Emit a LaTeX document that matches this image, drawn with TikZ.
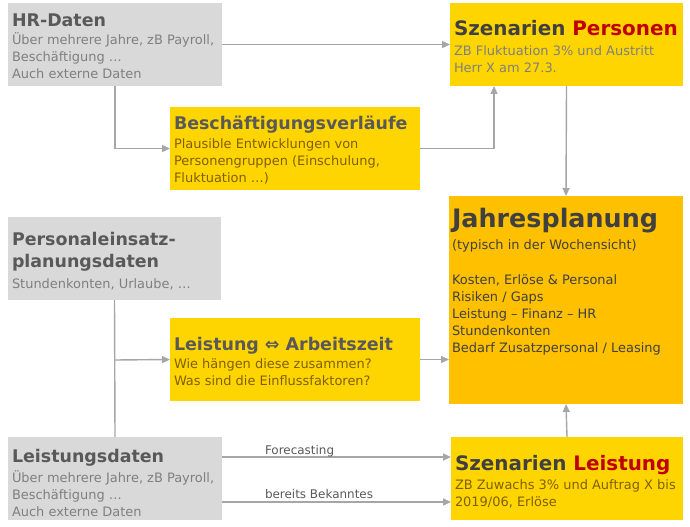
\documentclass[tikz,border=0pt]{standalone}
\usepackage{fontspec}
\setmainfont{DejaVu Sans}
\usetikzlibrary{arrows.meta}
\definecolor{boxgrey}{HTML}{D9D9D9}
\definecolor{boxyel}{HTML}{FFD500}
\definecolor{boxorg}{HTML}{FFC000}
\definecolor{tgrey}{HTML}{595959}
\definecolor{bgrey}{HTML}{7F7F7F}
\definecolor{tdark}{HTML}{404040}
\definecolor{bbrown}{HTML}{7F6000}
\definecolor{tred}{HTML}{C00000}
\definecolor{linegrey}{HTML}{A6A6A6}
\begin{document}
\begin{tikzpicture}[x=1bp,y=-1bp,
  box/.style={inner sep=0,outer sep=0,anchor=north west},
  greybox/.style={box,fill=boxgrey},
  yelbox/.style={box,fill=boxyel},
  orgbox/.style={box,fill=boxorg},
  ln/.style={anchor=base west,inner sep=0,outer sep=0},
  title/.style={ln,font=\fontsize{17.5}{20}\selectfont\bfseries},
  bigtitle/.style={ln,font=\fontsize{20}{23}\selectfont\bfseries,text=tdark},
  body/.style={ln,font=\fontsize{13}{16}\selectfont},
  lbl/.style={ln,font=\fontsize{12}{14}\selectfont,text=tgrey},
  conn/.style={draw=linegrey,line width=1.4bp},
  arr/.style={conn,-{Triangle[length=8bp,width=7bp]}}
]
\useasboundingbox[fill=white] (0,0) rectangle (690,527);

% boxes
\node[greybox,minimum width=214bp,minimum height=83bp] (hr) at (8,3) {};
\node[yelbox,minimum width=233bp,minimum height=83bp] (szp) at (450,3) {};
\node[yelbox,minimum width=250bp,minimum height=83bp] (besch) at (170,107) {};
\node[greybox,minimum width=213bp,minimum height=83bp] (pe) at (8,217) {};
\node[orgbox,minimum width=234bp,minimum height=208bp] (jp) at (449,196) {};
\node[yelbox,minimum width=250bp,minimum height=83bp] (law) at (170,318) {};
\node[greybox,minimum width=214bp,minimum height=83bp] (ld) at (8,437) {};
\node[yelbox,minimum width=232bp,minimum height=83bp] (szl) at (451,437) {};

% HR-Daten
\node[title,text=tgrey] (hrT) at (12,26.5) {HR-Daten};
\node[body,text=bgrey] (hr1) at (12,45) {Über mehrere Jahre, zB Payroll,};
\node[body,text=bgrey] (hr2) at (12,62) {Beschäftigung \dots};
\node[body,text=bgrey] (hr3) at (12,79) {Auch externe Daten};

% Szenarien Personen
\node[bigtitle] (szpT) at (454,36) {Szenarien \textcolor{tred}{Personen}};
\node[body,text=bgrey] (szp1) at (454,55.5) {ZB Fluktuation 3\% und Austritt};
\node[body,text=bgrey] (szp2) at (454,72.5) {Herr X am 27.3.};

% Beschaeftigungsverlaeufe
\node[title,text=tgrey] (beT) at (174,130) {Beschäftigungsverläufe};
\node[body,text=bbrown] (be1) at (174,149) {Plausible Entwicklungen von};
\node[body,text=bbrown] (be2) at (174,166) {Personengruppen (Einschulung,};
\node[body,text=bbrown] (be3) at (174,183) {Fluktuation \dots)};

% Personaleinsatzplanungsdaten
\node[title,text=tgrey] (peT1) at (12,246) {Personaleinsatz-};
\node[title,text=tgrey] (peT2) at (12,268) {planungsdaten};
\node[body,text=bgrey] (pe1) at (12,288) {Stundenkonten, Urlaube, \dots};

% Jahresplanung
\node[ln,font=\fontsize{25.5}{30}\selectfont\bfseries,text=tdark] (jpT) at (452,228) {Jahresplanung};
\node[body,text=tdark] (jp0) at (452,250) {(typisch in der Wochensicht)};
\node[body,text=tdark] (jp1) at (452,284) {Kosten, Erlöse \& Personal};
\node[body,text=tdark] (jp2) at (452,301) {Risiken / Gaps};
\node[body,text=tdark] (jp3) at (452,318) {Leistung -- Finanz -- HR};
\node[body,text=tdark] (jp4) at (452,335) {Stundenkonten};
\node[body,text=tdark] (jp5) at (452,352.5) {Bedarf Zusatzpersonal / Leasing};

% Leistung <-> Arbeitszeit
\node[title,text=tgrey] (lawT) at (174,350) {Leistung ⇔ Arbeitszeit};
\node[body,text=bbrown] (law1) at (174,368) {Wie hängen diese zusammen?};
\node[body,text=bbrown] (law2) at (174,385) {Was sind die Einflussfaktoren?};

% Leistungsdaten
\node[title,text=tgrey] (ldT) at (12,462) {Leistungsdaten};
\node[body,text=bgrey] (ld1) at (12,482) {Über mehrere Jahre, zB Payroll,};
\node[body,text=bgrey] (ld2) at (12,499) {Beschäftigung \dots};
\node[body,text=bgrey] (ld3) at (12,516) {Auch externe Daten};

% Szenarien Leistung
\node[bigtitle] (szlT) at (455,470) {Szenarien \textcolor{tred}{Leistung}};
\node[body,text=bbrown] (szl1) at (455,489) {ZB Zuwachs 3\% und Auftrag X bis};
\node[body,text=bbrown] (szl2) at (455,506) {2019/06, Erlöse};

% helper coordinates
\coordinate (szpin) at (494,86);
\coordinate (br) at (115,360);
\coordinate (fc) at (0,457);
\coordinate (bk) at (0,502);

% connectors
\draw[arr] (hr.east) -- (szp.west);
\draw[arr] (hr.south) |- (besch.west);
\draw[arr] (besch.east) -| (szpin);
\draw[arr] (szp.south) -- (jp.north);
\draw[conn] (pe.south) -- (ld.north);
\draw[arr] (br) -- (law.west);
\draw[arr] (law.east) -- (jp.west |- law.east);
\draw[arr] (ld.east |- fc) -- (szl.west |- fc);
\draw[arr] (ld.east |- bk) -- (szl.west |- bk);
\draw[arr] (szl.north) -- (jp.south);

% connector labels
\node[lbl] (fcL) at (265,454) {Forecasting};
\node[lbl] (bkL) at (265,498) {bereits Bekanntes};
\end{tikzpicture}
\end{document}
